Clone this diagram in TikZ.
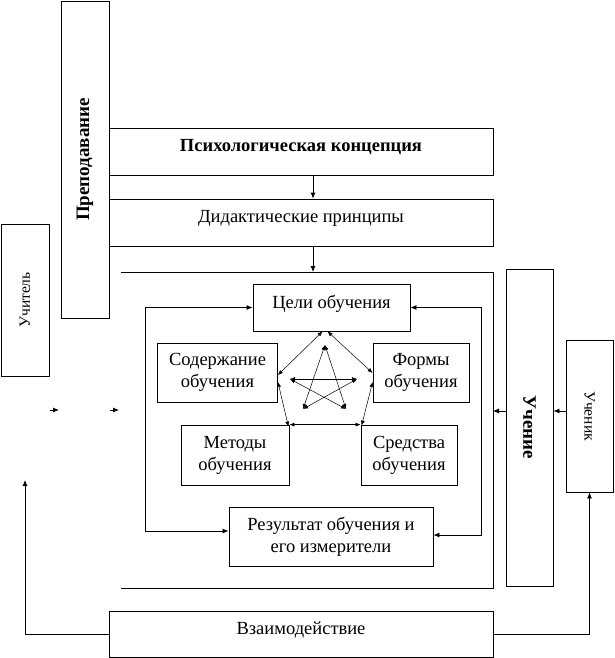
\documentclass[tikz,border=0pt]{standalone}
\usepackage{fontspec}
\setmainfont{Liberation Serif}
\usepackage{graphicx}
\usetikzlibrary{positioning,arrows.meta}

\begin{document}
\begin{tikzpicture}[x=1pt,y=-1pt,>={Latex[length=6pt,width=5pt]},
         line width=0.8pt,font=\fontsize{18.5}{22}\selectfont,
         main box/.style={draw,rectangle,inner sep=0pt,align=center},
         one line/.style={text depth=12pt},
         side text/.style={font=\fontsize{15.5}{18}\selectfont},
         thin arrow/.style={<->,line width=0.5pt,>={Latex[length=5pt,width=4pt]}}]

     \useasboundingbox (0,0) rectangle (614,658);

     % left and top blocks
     \node[main box,minimum width=48pt,minimum height=152pt,side text] (teacher) at (25,300) {\rotatebox{90}{Учитель}};
     \node[main box,minimum width=48pt,minimum height=317pt] (teach) at (85,159.5) {\rotatebox{90}{\fontsize{19}{22}\selectfont\bfseries Преподавание}};
     \node[main box,one line,minimum width=384pt,minimum height=47pt] (psych) at (301,151.5) {\bfseries Психологическая концепция};
     \node[main box,one line,minimum width=384pt,minimum height=47pt] (didact) at (301,222.5) {Дидактические принципы};

     % frame
     \coordinate (ftl) at (121,272);
     \coordinate (ftr) at (493,272);
     \coordinate (fbr) at (493,588);
     \coordinate (fbl) at (121,588);
     \draw (ftl) -- (ftr) -- (fbr) -- (fbl);

     % inner blocks
     \node[main box,one line,minimum width=157pt,minimum height=47pt] (goals) at (331.5,307.5) {Цели обучения};
     \node[main box,minimum width=120pt,minimum height=59pt] (content) at (217.5,372.5) {Содержание\\обучения};
     \node[main box,minimum width=96pt,minimum height=59pt] (forms) at (421,372.5) {Формы\\обучения};
     \node[main box,minimum width=108pt,minimum height=60pt] (methods) at (235,455) {Методы\\обучения};
     \node[main box,minimum width=96pt,minimum height=60pt] (means) at (409,455) {Средства\\обучения};
     \node[main box,minimum width=204pt,minimum height=59pt] (result) at (331,536.5) {Результат обучения и\\его измерители};

     % right and bottom blocks
     \node[main box,minimum width=47pt,minimum height=317pt] (study) at (529.5,427.5) {\rotatebox{-90}{\fontsize{19}{22}\selectfont\bfseries Учение}};
     \node[main box,minimum width=47pt,minimum height=152pt,side text] (pupil) at (589.5,416) {\rotatebox{-90}{Ученик}};
     \node[main box,one line,minimum width=384pt,minimum height=46pt] (interact) at (301,634) {Взаимодействие};

     % arrows down
     \draw[->] ([xshift=12pt]psych.south) -- ([xshift=12pt]didact.north);
     \draw[->] ([xshift=12pt]didact.south) -- ([xshift=-180pt]ftr);

     % loops round the inner blocks
     \draw[<->] (goals.west) -- (145,307.5) -- (145,531) -- ([yshift=5.5pt]result.west);
     \draw[<->] (goals.east) -- (481,307.5) -- (481,535) -- ([yshift=1.5pt]result.east);

     % pentagon
     \draw[thin arrow] ([xshift=-9pt]goals.south) -- ([yshift=-2.5pt]content.east);
     \draw[thin arrow] ([xshift=-4pt]goals.south) -- ([yshift=-0.5pt]forms.west);
     \draw[thin arrow] ([yshift=-9.5pt]content.east) -- ([xshift=-1pt,yshift=-2pt]methods.north east);
     \draw[thin arrow] ([yshift=-9.5pt]forms.west) -- ([xshift=1pt,yshift=-1pt]means.north west);
     \draw[thin arrow] (methods.north east) -- (means.north west);

     % star
     \coordinate (s1) at (325,345);
     \coordinate (s2) at (357,379);
     \coordinate (s3) at (346,409);
     \coordinate (s4) at (303,409);
     \coordinate (s5) at (290,379);
     \draw[thin arrow] (s1) -- (s3);
     \draw[thin arrow] (s1) -- (s4);
     \draw[thin arrow] (s5) -- (s2);
     \draw[thin arrow] (s5) -- (s3);
     \draw[thin arrow] (s2) -- (s4);

     % side arrows
     \coordinate (t1) at (50,410);
     \coordinate (t2) at (59,410);
     \coordinate (t3) at (110,410);
     \coordinate (t4) at (119,410);
     \draw[->] (t1) -- (t2);
     \draw[->] (t3) -- (t4);
     \draw[->] (study.west |- 0,411) -- (fbr |- 0,411);
     \draw[->] (pupil.west |- 0,411) -- (study.east |- 0,411);

     % interaction
     \draw[->] (interact.west) -| (25,480);
     \draw[->] (interact.east) -| (pupil.south);
 \end{tikzpicture}
\end{document}
